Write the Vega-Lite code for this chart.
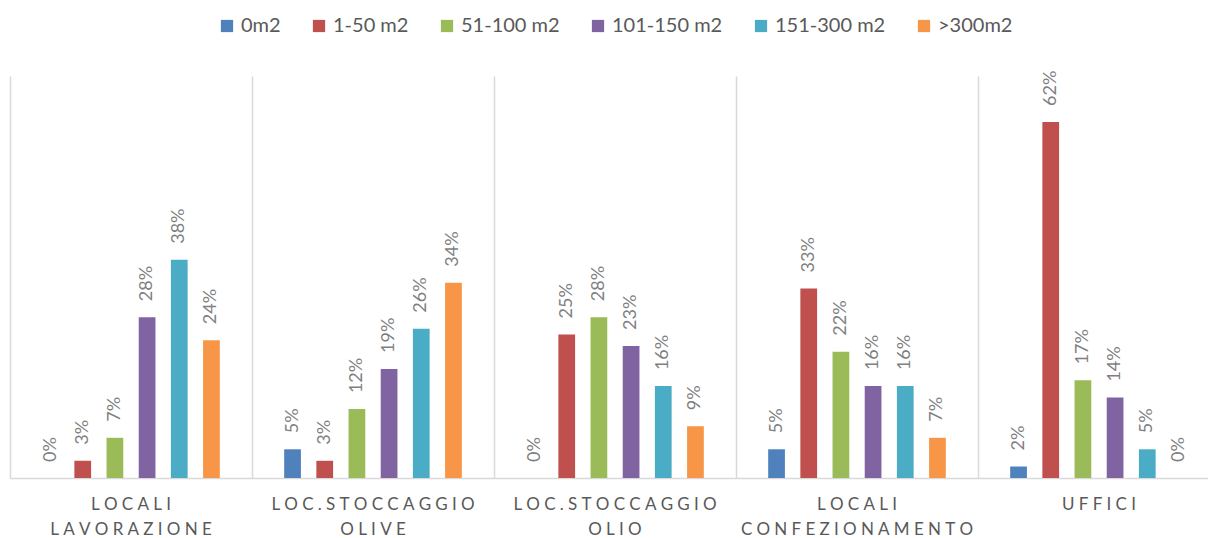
{
  "$schema": "https://vega.github.io/schema/vega-lite/v6.json",
  "width": 1210,
  "height": 402,
  "autosize": {"type": "none"},
  "padding": {"left": 10, "top": 76, "right": 0, "bottom": 60},
  "background": "white",
  "config": {
    "view": {"stroke": null},
    "font": "Lato",
    "legend": {"layout": {"top": {"anchor": "middle"}}}
  },
  "data": {
    "values": [
      {"cat": "LOCALI LAVORAZIONE", "size": "0m2", "value": 0.00},
      {"cat": "LOCALI LAVORAZIONE", "size": "1-50 m2", "value": 0.03},
      {"cat": "LOCALI LAVORAZIONE", "size": "51-100 m2", "value": 0.07},
      {"cat": "LOCALI LAVORAZIONE", "size": "101-150 m2", "value": 0.28},
      {"cat": "LOCALI LAVORAZIONE", "size": "151-300 m2", "value": 0.38},
      {"cat": "LOCALI LAVORAZIONE", "size": ">300m2", "value": 0.24},
      {"cat": "LOC.STOCCAGGIO OLIVE", "size": "0m2", "value": 0.05},
      {"cat": "LOC.STOCCAGGIO OLIVE", "size": "1-50 m2", "value": 0.03},
      {"cat": "LOC.STOCCAGGIO OLIVE", "size": "51-100 m2", "value": 0.12},
      {"cat": "LOC.STOCCAGGIO OLIVE", "size": "101-150 m2", "value": 0.19},
      {"cat": "LOC.STOCCAGGIO OLIVE", "size": "151-300 m2", "value": 0.26},
      {"cat": "LOC.STOCCAGGIO OLIVE", "size": ">300m2", "value": 0.34},
      {"cat": "LOC.STOCCAGGIO OLIO", "size": "0m2", "value": 0.00},
      {"cat": "LOC.STOCCAGGIO OLIO", "size": "1-50 m2", "value": 0.25},
      {"cat": "LOC.STOCCAGGIO OLIO", "size": "51-100 m2", "value": 0.28},
      {"cat": "LOC.STOCCAGGIO OLIO", "size": "101-150 m2", "value": 0.23},
      {"cat": "LOC.STOCCAGGIO OLIO", "size": "151-300 m2", "value": 0.16},
      {"cat": "LOC.STOCCAGGIO OLIO", "size": ">300m2", "value": 0.09},
      {"cat": "LOCALI CONFEZIONAMENTO", "size": "0m2", "value": 0.05},
      {"cat": "LOCALI CONFEZIONAMENTO", "size": "1-50 m2", "value": 0.33},
      {"cat": "LOCALI CONFEZIONAMENTO", "size": "51-100 m2", "value": 0.22},
      {"cat": "LOCALI CONFEZIONAMENTO", "size": "101-150 m2", "value": 0.16},
      {"cat": "LOCALI CONFEZIONAMENTO", "size": "151-300 m2", "value": 0.16},
      {"cat": "LOCALI CONFEZIONAMENTO", "size": ">300m2", "value": 0.07},
      {"cat": "UFFICI", "size": "0m2", "value": 0.02},
      {"cat": "UFFICI", "size": "1-50 m2", "value": 0.62},
      {"cat": "UFFICI", "size": "51-100 m2", "value": 0.17},
      {"cat": "UFFICI", "size": "101-150 m2", "value": 0.14},
      {"cat": "UFFICI", "size": "151-300 m2", "value": 0.05},
      {"cat": "UFFICI", "size": ">300m2", "value": 0.00}
    ]
  },
  "encoding": {
    "x": {
      "field": "cat",
      "type": "nominal",
      "sort": null,
      "scale": {"paddingInner": 0, "paddingOuter": 0},
      "axis": {
        "title": null,
        "grid": true,
        "gridColor": "#d9d9d9",
        "gridWidth": 1.5,
        "bandPosition": 0,
        "ticks": false,
        "domainColor": "#d9d9d9",
        "domainWidth": 1.5,
        "labelAngle": 0,
        "labelFontSize": 17,
        "labelColor": "#595959",
        "labelPadding": 18,
        "labelLineHeight": 25,
        "labelLimit": 0,
        "labelExpr": "split(replace(datum.label, regexp('(\\\\S)(?=\\\\S)', 'g'), '$1\u2005'), ' ')"
      }
    },
    "xOffset": {
      "field": "size",
      "type": "nominal",
      "sort": ["0m2", "1-50 m2", "51-100 m2", "101-150 m2", "151-300 m2", ">300m2"],
      "scale": {"paddingInner": 0.48, "paddingOuter": 1.143}
    },
    "y": {
      "field": "value",
      "type": "quantitative",
      "scale": {"domain": [0, 0.7]},
      "axis": null
    }
  },
  "layer": [
    {
      "mark": {"type": "bar"},
      "encoding": {
        "color": {
          "field": "size",
          "type": "nominal",
          "scale": {
            "domain": ["0m2", "1-50 m2", "51-100 m2", "101-150 m2", "151-300 m2", ">300m2"],
            "range": ["#4F81BD", "#C0504D", "#9BBB59", "#8064A2", "#4BACC6", "#F79646"]
          },
          "legend": {
            "orient": "top",
            "direction": "horizontal",
            "title": null,
            "symbolType": "square",
            "symbolSize": 150,
            "symbolStrokeWidth": 0,
            "labelFontSize": 20,
            "labelColor": "#595959",
            "columnPadding": 28,
            "offset": 40
          }
        }
      }
    },
    {
      "mark": {
        "type": "text",
        "angle": 270,
        "align": "left",
        "baseline": "middle",
        "dx": 16,
        "fontSize": 18,
        "color": "#7f7f7f"
      },
      "encoding": {
        "text": {"field": "value", "type": "quantitative", "format": ".0%"}
      }
    }
  ]
}
